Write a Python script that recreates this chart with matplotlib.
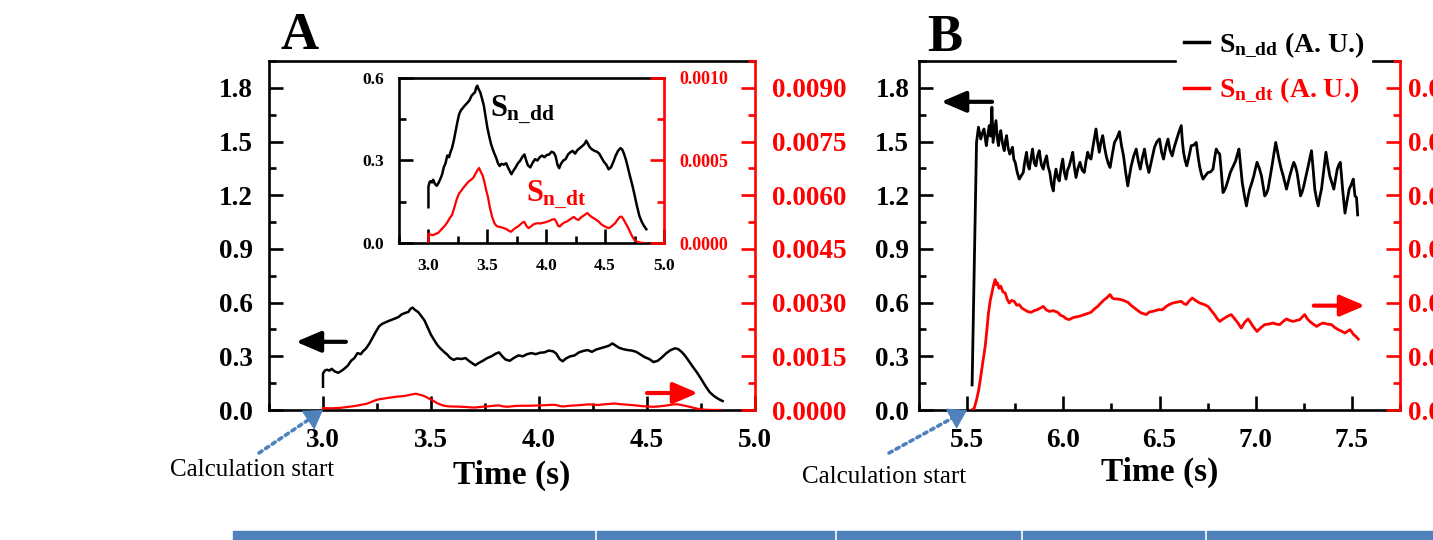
import numpy as np
import matplotlib
matplotlib.use("Agg")
import matplotlib.pyplot as plt
from matplotlib.lines import Line2D
from matplotlib.patches import Rectangle
from matplotlib.ticker import MultipleLocator, FormatStrFormatter

# Panel A: neutron source strength, discharge 1 (time in s)
a_t_dd = [3.000, 3.000, 3.010, 3.020, 3.030, 3.040, 3.055, 3.070, 3.085, 3.100,
          3.115, 3.130, 3.145, 3.160, 3.175, 3.185, 3.200, 3.215, 3.230, 3.245,
          3.260, 3.275, 3.290, 3.305, 3.320, 3.335, 3.350, 3.365, 3.380, 3.395,
          3.405, 3.415, 3.425, 3.440, 3.455, 3.470, 3.485, 3.500, 3.515, 3.530,
          3.545, 3.560, 3.575, 3.590, 3.605, 3.620, 3.640, 3.660, 3.675, 3.690,
          3.705, 3.720, 3.740, 3.760, 3.780, 3.800, 3.815, 3.830, 3.845, 3.865,
          3.885, 3.905, 3.925, 3.945, 3.965, 3.985, 4.005, 4.025, 4.045, 4.065,
          4.080, 4.095, 4.110, 4.125, 4.145, 4.165, 4.185, 4.205, 4.225, 4.245,
          4.265, 4.285, 4.305, 4.325, 4.340, 4.355, 4.370, 4.390, 4.410, 4.430,
          4.450, 4.470, 4.490, 4.510, 4.530, 4.550, 4.570, 4.590, 4.610, 4.630,
          4.645, 4.660, 4.675, 4.690, 4.710, 4.730, 4.750, 4.770, 4.790, 4.810,
          4.830, 4.850]
a_dd = [0.130, 0.205, 0.222, 0.225, 0.220, 0.230, 0.215, 0.208, 0.218, 0.232,
        0.248, 0.275, 0.290, 0.318, 0.312, 0.328, 0.345, 0.372, 0.405, 0.438,
        0.468, 0.482, 0.490, 0.498, 0.505, 0.512, 0.520, 0.535, 0.542, 0.548,
        0.565, 0.572, 0.560, 0.548, 0.525, 0.500, 0.460, 0.420, 0.390, 0.362,
        0.342, 0.325, 0.310, 0.290, 0.280, 0.288, 0.285, 0.290, 0.275, 0.262,
        0.250, 0.262, 0.275, 0.290, 0.300, 0.315, 0.322, 0.300, 0.282, 0.275,
        0.292, 0.305, 0.300, 0.312, 0.318, 0.312, 0.320, 0.322, 0.332, 0.328,
        0.315, 0.285, 0.272, 0.288, 0.300, 0.305, 0.322, 0.330, 0.335, 0.325,
        0.338, 0.345, 0.352, 0.360, 0.372, 0.360, 0.348, 0.340, 0.335, 0.332,
        0.325, 0.310, 0.295, 0.285, 0.268, 0.275, 0.295, 0.318, 0.335, 0.345,
        0.340, 0.325, 0.305, 0.280, 0.245, 0.212, 0.175, 0.135, 0.100, 0.078,
        0.062, 0.050]

a_t_dt = [3.000, 3.000, 3.020, 3.040, 3.060, 3.080, 3.100, 3.120, 3.140, 3.160,
          3.180, 3.200, 3.220, 3.240, 3.260, 3.280, 3.300, 3.320, 3.340, 3.360,
          3.380, 3.400, 3.415, 3.430, 3.445, 3.460, 3.475, 3.490, 3.505, 3.520,
          3.540, 3.560, 3.580, 3.600, 3.620, 3.640, 3.660, 3.680, 3.700, 3.720,
          3.740, 3.760, 3.780, 3.800, 3.815, 3.830, 3.850, 3.870, 3.890, 3.910,
          3.930, 3.950, 3.970, 3.990, 4.010, 4.030, 4.050, 4.070, 4.085, 4.100,
          4.115, 4.135, 4.155, 4.175, 4.195, 4.215, 4.235, 4.255, 4.275, 4.295,
          4.315, 4.335, 4.350, 4.365, 4.385, 4.405, 4.425, 4.445, 4.465, 4.485,
          4.505, 4.525, 4.545, 4.565, 4.585, 4.605, 4.625, 4.640, 4.655, 4.670,
          4.690, 4.710, 4.730, 4.750, 4.770, 4.800, 4.840]
a_dt = [0.0, 5.5e-5, 5.0e-5, 4.8e-5, 5.5e-5, 6.0e-5, 7.5e-5, 9.0e-5, 1.05e-4, 1.25e-4,
        1.50e-4, 1.70e-4, 2.15e-4, 2.65e-4, 3.00e-4, 3.18e-4, 3.38e-4, 3.55e-4, 3.72e-4, 3.82e-4,
        3.95e-4, 4.20e-4, 4.40e-4, 4.55e-4, 4.30e-4, 4.10e-4, 3.70e-4, 3.20e-4, 2.80e-4, 2.20e-4,
        1.60e-4, 1.20e-4, 1.02e-4, 9.8e-5, 9.5e-5, 9.0e-5, 8.5e-5, 7.5e-5, 6.8e-5, 8.0e-5,
        9.2e-5, 1.00e-4, 1.12e-4, 1.25e-4, 1.28e-4, 1.05e-4, 9.0e-5, 1.00e-4, 1.12e-4, 1.18e-4,
        1.20e-4, 1.18e-4, 1.22e-4, 1.25e-4, 1.30e-4, 1.35e-4, 1.42e-4, 1.45e-4, 1.30e-4, 1.05e-4,
        1.00e-4, 1.15e-4, 1.25e-4, 1.30e-4, 1.40e-4, 1.50e-4, 1.58e-4, 1.45e-4, 1.40e-4, 1.55e-4,
        1.65e-4, 1.75e-4, 1.82e-4, 1.70e-4, 1.58e-4, 1.50e-4, 1.40e-4, 1.30e-4, 1.15e-4, 1.05e-4,
        9.8e-5, 9.0e-5, 9.5e-5, 1.08e-4, 1.20e-4, 1.40e-4, 1.58e-4, 1.60e-4, 1.45e-4, 1.25e-4,
        1.00e-4, 7.0e-5, 4.0e-5, 1.8e-5, 8.0e-6, 2.0e-6, 0.0]

# Panel B: discharge 2
b_t_dd = [5.526, 5.549, 5.559, 5.571, 5.580, 5.588, 5.594, 5.600, 5.608, 5.615,
          5.622, 5.629, 5.635, 5.643, 5.650, 5.657, 5.663, 5.669, 5.675, 5.684,
          5.693, 5.699, 5.705, 5.714, 5.722, 5.729, 5.736, 5.743, 5.750, 5.760,
          5.771, 5.782, 5.792, 5.800, 5.809, 5.816, 5.823, 5.831, 5.840, 5.849,
          5.858, 5.866, 5.875, 5.886, 5.896, 5.904, 5.913, 5.921, 5.930, 5.939,
          5.948, 5.955, 5.962, 5.970, 5.979, 5.988, 5.997, 6.005, 6.014, 6.022,
          6.031, 6.040, 6.049, 6.057, 6.066, 6.076, 6.087, 6.098, 6.109, 6.118,
          6.127, 6.135, 6.144, 6.157, 6.170, 6.178, 6.187, 6.196, 6.205, 6.214,
          6.223, 6.233, 6.243, 6.255, 6.266, 6.279, 6.292, 6.302, 6.313, 6.324,
          6.335, 6.344, 6.353, 6.366, 6.379, 6.390, 6.400, 6.411, 6.422, 6.433,
          6.445, 6.460, 6.474, 6.487, 6.500, 6.511, 6.521, 6.533, 6.544, 6.555,
          6.566, 6.577, 6.587, 6.600, 6.613, 6.619, 6.625, 6.634, 6.642, 6.654,
          6.665, 6.678, 6.691, 6.700, 6.708, 6.717, 6.726, 6.739, 6.752, 6.765,
          6.778, 6.787, 6.795, 6.804, 6.813, 6.822, 6.830, 6.839, 6.847, 6.858,
          6.868, 6.882, 6.896, 6.905, 6.913, 6.922, 6.930, 6.941, 6.952, 6.960,
          6.969, 6.980, 6.990, 6.999, 7.007, 7.019, 7.030, 7.039, 7.047, 7.056,
          7.064, 7.073, 7.082, 7.093, 7.104, 7.112, 7.121, 7.132, 7.143, 7.152,
          7.160, 7.168, 7.177, 7.188, 7.198, 7.207, 7.215, 7.224, 7.233, 7.242,
          7.250, 7.262, 7.273, 7.282, 7.290, 7.299, 7.307, 7.316, 7.325, 7.333,
          7.342, 7.354, 7.365, 7.375, 7.385, 7.396, 7.406, 7.415, 7.424, 7.432,
          7.440, 7.452, 7.464, 7.475, 7.486, 7.497, 7.507, 7.516, 7.524, 7.530]
b_dd = [0.14, 1.495, 1.58, 1.514, 1.55, 1.57, 1.52, 1.477, 1.54, 1.589,
        1.53, 1.692, 1.495, 1.56, 1.617, 1.52, 1.477, 1.53, 1.561, 1.49,
        1.449, 1.50, 1.533, 1.46, 1.43, 1.45, 1.468, 1.40, 1.384, 1.33,
        1.29, 1.31, 1.327, 1.39, 1.44, 1.37, 1.346, 1.40, 1.458, 1.38,
        1.364, 1.42, 1.449, 1.37, 1.346, 1.39, 1.42, 1.36, 1.327, 1.26,
        1.224, 1.30, 1.346, 1.30, 1.28, 1.35, 1.402, 1.33, 1.29, 1.34,
        1.364, 1.40, 1.44, 1.36, 1.299, 1.35, 1.384, 1.34, 1.327, 1.39,
        1.44, 1.41, 1.402, 1.49, 1.57, 1.50, 1.44, 1.50, 1.533, 1.47,
        1.42, 1.38, 1.355, 1.43, 1.495, 1.52, 1.555, 1.48, 1.42, 1.33,
        1.252, 1.31, 1.364, 1.42, 1.458, 1.39, 1.346, 1.41, 1.458, 1.38,
        1.327, 1.40, 1.468, 1.50, 1.514, 1.44, 1.402, 1.47, 1.514, 1.45,
        1.42, 1.47, 1.505, 1.55, 1.589, 1.50, 1.44, 1.39, 1.364, 1.42,
        1.477, 1.48, 1.495, 1.42, 1.364, 1.32, 1.29, 1.31, 1.327, 1.33,
        1.346, 1.41, 1.458, 1.44, 1.43, 1.32, 1.215, 1.23, 1.252, 1.29,
        1.327, 1.36, 1.393, 1.43, 1.458, 1.36, 1.271, 1.20, 1.14, 1.19,
        1.234, 1.27, 1.308, 1.35, 1.384, 1.35, 1.308, 1.25, 1.196, 1.21,
        1.234, 1.29, 1.346, 1.42, 1.495, 1.45, 1.402, 1.35, 1.308, 1.27,
        1.234, 1.27, 1.308, 1.35, 1.384, 1.36, 1.327, 1.26, 1.196, 1.22,
        1.252, 1.31, 1.364, 1.41, 1.449, 1.34, 1.234, 1.18, 1.14, 1.19,
        1.234, 1.34, 1.44, 1.37, 1.308, 1.27, 1.234, 1.29, 1.346, 1.37,
        1.384, 1.23, 1.10, 1.17, 1.234, 1.26, 1.29, 1.196, 1.187, 1.09]

b_t_dt = [5.524, 5.537, 5.549, 5.560, 5.571, 5.582, 5.594, 5.603, 5.611, 5.620,
          5.629, 5.638, 5.646, 5.652, 5.658, 5.666, 5.675, 5.686, 5.698, 5.708,
          5.719, 5.732, 5.745, 5.758, 5.771, 5.784, 5.797, 5.815, 5.832, 5.849,
          5.866, 5.881, 5.896, 5.911, 5.927, 5.948, 5.970, 5.985, 6.000, 6.015,
          6.031, 6.048, 6.066, 6.088, 6.109, 6.127, 6.144, 6.162, 6.179, 6.197,
          6.214, 6.229, 6.243, 6.255, 6.266, 6.283, 6.300, 6.318, 6.335, 6.352,
          6.370, 6.388, 6.405, 6.418, 6.431, 6.448, 6.465, 6.481, 6.497, 6.515,
          6.535, 6.552, 6.570, 6.592, 6.613, 6.626, 6.639, 6.655, 6.670, 6.690,
          6.708, 6.730, 6.752, 6.770, 6.786, 6.800, 6.813, 6.826, 6.839, 6.856,
          6.873, 6.890, 6.908, 6.917, 6.925, 6.943, 6.960, 6.973, 6.986, 6.997,
          7.007, 7.027, 7.047, 7.068, 7.090, 7.107, 7.125, 7.143, 7.160, 7.177,
          7.194, 7.212, 7.229, 7.242, 7.255, 7.268, 7.281, 7.299, 7.316, 7.333,
          7.350, 7.372, 7.394, 7.412, 7.429, 7.447, 7.464, 7.477, 7.490, 7.500,
          7.510, 7.522, 7.533]
# S_n_dt in units of 1e-3
b_dt_milli = [0.0, 0.05, 0.28, 0.55, 0.935, 1.35, 1.775, 2.25, 2.71, 3.05,
              3.27, 3.5, 3.645, 3.5, 3.555, 3.4, 3.46, 3.3, 3.27, 3.1,
              2.99, 3.06, 3.035, 2.925, 2.945, 2.85, 2.805, 2.75, 2.73, 2.775,
              2.805, 2.85, 2.895, 2.8, 2.755, 2.775, 2.73, 2.65, 2.615, 2.55,
              2.525, 2.575, 2.6, 2.625, 2.665, 2.7, 2.73, 2.825, 2.895, 3.0,
              3.085, 3.15, 3.225, 3.125, 3.105, 3.1, 3.085, 3.05, 3.01, 2.925,
              2.85, 2.775, 2.71, 2.69, 2.665, 2.74, 2.755, 2.78, 2.805, 2.8,
              2.895, 2.95, 2.99, 3.015, 3.035, 2.975, 2.945, 3.05, 3.13, 3.05,
              2.99, 2.95, 2.895, 2.775, 2.665, 2.55, 2.475, 2.525, 2.57, 2.625,
              2.665, 2.55, 2.43, 2.35, 2.29, 2.45, 2.545, 2.45, 2.335, 2.26,
              2.195, 2.3, 2.385, 2.4, 2.43, 2.4, 2.385, 2.475, 2.545, 2.5,
              2.475, 2.5, 2.525, 2.6, 2.665, 2.55, 2.475, 2.4, 2.335, 2.39,
              2.43, 2.4, 2.385, 2.3, 2.245, 2.2, 2.15, 2.2, 2.245, 2.175,
              2.1, 2.05, 1.98]
b_dt = np.array(b_dt_milli) / 1000.0

plt.rcParams['font.family'] = ['Liberation Serif', 'DejaVu Serif']
plt.rcParams['font.weight'] = 'bold'
plt.rcParams['axes.labelweight'] = 'bold'
plt.rcParams['mathtext.fontset'] = 'custom'
plt.rcParams['mathtext.rm'] = 'Liberation Serif:bold'
plt.rcParams['mathtext.it'] = 'Liberation Serif:bold'
plt.rcParams['mathtext.bf'] = 'Liberation Serif:bold'

W, H = 1433, 540
RED = '#ff0000'
BLUE = '#4f81bd'
fig = plt.figure(figsize=(W / 100, H / 100), dpi=100)


def box(x0, y0, x1, y1):
    # pixel box measured from the top-left corner -> figure fraction rect
    return [x0 / W, 1 - y1 / H, (x1 - x0) / W, (y1 - y0) / H]


def left_axis(ax, xlim, ylim, xstep, ystep, size, xpad, ypad, ticklen=10):
    ax.set_xlim(*xlim)
    ax.set_ylim(*ylim)
    ax.xaxis.set_major_locator(MultipleLocator(xstep))
    ax.xaxis.set_minor_locator(MultipleLocator(xstep / 2))
    ax.yaxis.set_major_locator(MultipleLocator(ystep))
    ax.yaxis.set_minor_locator(MultipleLocator(ystep / 2))
    ax.xaxis.set_major_formatter(FormatStrFormatter('%.1f'))
    ax.yaxis.set_major_formatter(FormatStrFormatter('%.1f'))
    ax.tick_params(which='both', direction='in', width=1.9, labelsize=size)
    ax.tick_params(which='major', length=ticklen)
    ax.tick_params(which='minor', length=ticklen / 2)
    ax.tick_params(axis='x', pad=xpad)
    ax.tick_params(axis='y', pad=ypad)
    for s in ax.spines.values():
        s.set_linewidth(1.9)
    ax.spines['right'].set_visible(False)


def right_axis(ax, ylim, ystep, size, pad, ticklen=10):
    ax.set_ylim(*ylim)
    ax.yaxis.set_major_locator(MultipleLocator(ystep))
    ax.yaxis.set_minor_locator(MultipleLocator(ystep / 2))
    ax.yaxis.set_major_formatter(FormatStrFormatter('%.4f'))
    ax.tick_params(axis='y', which='both', direction='in', width=1.9,
                   colors=RED, labelsize=size, pad=pad)
    ax.tick_params(axis='y', which='major', length=ticklen)
    ax.tick_params(axis='y', which='minor', length=ticklen / 2)
    for name in ['left', 'top', 'bottom']:
        ax.spines[name].set_visible(False)
    ax.spines['right'].set_color(RED)
    ax.spines['right'].set_linewidth(1.9)


def arrow(ax, tail, head, color):
    ax.annotate('', xy=head, xytext=tail,
                arrowprops=dict(arrowstyle='-|>,head_length=0.75,head_width=0.32',
                                color=color, lw=3, mutation_scale=20,
                                shrinkA=0, shrinkB=0))


def start_marker(ax, tip, tail_px, head_dir, text_px):
    # dotted leader from the label up to the first sample, solid head on top
    ax.annotate('', xy=tip, xycoords='data',
                xytext=(tail_px[0] / W, 1 - tail_px[1] / H), textcoords='figure fraction',
                arrowprops=dict(arrowstyle='-', color=BLUE, lw=2.6, linestyle=(0, (1, 1.2)),
                                shrinkA=0, shrinkB=6),
                annotation_clip=False)
    ax.annotate('', xy=tip, xycoords='data',
                xytext=(head_dir[0] * 12, head_dir[1] * 12), textcoords='offset points',
                arrowprops=dict(arrowstyle='-|>,head_length=0.6,head_width=0.38',
                                color=BLUE, lw=0.8, mutation_scale=20,
                                shrinkA=0, shrinkB=0),
                annotation_clip=False)
    fig.text(text_px[0] / W, 1 - text_px[1] / H, 'Calculation start',
             fontsize=18, fontweight='normal', ha='left', va='center')


# ---------------- panel A ----------------
ax_a = fig.add_axes(box(269, 61, 755, 410))
ax_a.plot(a_t_dd, a_dd, color='black', lw=1.8)
left_axis(ax_a, (2.75, 5.0), (0, 1.95), 0.5, 0.3, 19.5, 13, 11.5)
ax_a.set_xlabel('Time (s)', fontsize=24, fontweight='bold', labelpad=5)

ax_a2 = ax_a.twinx()
ax_a2.plot(a_t_dt, a_dt, color=RED, lw=1.6)
right_axis(ax_a2, (0, 0.00975), 0.0015, 19.5, 12)

arrow(ax_a, (3.106, 0.381), (2.875, 0.381), 'black')
arrow(ax_a, (4.50, 0.095), (4.736, 0.095), RED)
start_marker(ax_a, (3.0, 0.0), (259, 453), (-0.83, -0.56), (170, 470))

# inset: zoom on the same discharge
ax_in = fig.add_axes(box(399, 78, 664, 243))
ax_in.plot(a_t_dd, a_dd, color='black', lw=1.8)
left_axis(ax_in, (2.75, 5.0), (0, 0.6), 0.5, 0.3, 12.5, 11, 11)
ax_in2 = ax_in.twinx()
ax_in2.plot(a_t_dt, a_dt, color=RED, lw=1.6)
right_axis(ax_in2, (0, 0.001), 0.0005, 13, 11)
ax_in.text(3.52, 0.545, r'$S_{n\_dd}$', fontsize=22, va='top', ha='left')
ax_in.text(3.83, 0.235, r'$S_{n\_dt}$', fontsize=22, va='top', ha='left', color=RED)

# ---------------- panel B ----------------
ax_b = fig.add_axes(box(919, 61, 1400, 410))
ax_b.plot(b_t_dd, b_dd, color='black', lw=2.0)
left_axis(ax_b, (5.25, 7.75), (0, 1.95), 0.5, 0.3, 19.5, 13, 7)
ax_b.set_xlabel('Time (s)', fontsize=24, fontweight='bold', labelpad=3)

ax_b2 = ax_b.twinx()
ax_b2.plot(b_t_dt, b_dt, color=RED, lw=2.0)
right_axis(ax_b2, (0, 0.00975), 0.0015, 19.5, 6)

arrow(ax_b, (5.63, 1.722), (5.365, 1.722), 'black')
arrow(ax_b, (7.302, 0.583), (7.568, 0.583), RED)
start_marker(ax_b, (5.5, 0.0), (889, 453), (-0.88, -0.48), (802, 477))

handles = [Line2D([], [], color='black', lw=2.5), Line2D([], [], color=RED, lw=2.5)]
labels = [r'$S_{n\_dd}$ (A. U.)', r'$S_{n\_dt}$ (A. U.)']
fig.legend(handles, labels, loc='center', bbox_to_anchor=(1274 / W, 1 - 68 / H),
           fontsize=20, labelcolor=['black', RED], frameon=True, fancybox=False,
           facecolor='white', edgecolor='white', framealpha=1,
           handlelength=0.9, handletextpad=0.35, labelspacing=0.6,
           borderpad=0.25, borderaxespad=0)

# panel letters
fig.text(300 / W, 1 - 36 / H, 'A', fontsize=38, ha='center', va='center')
fig.text(945 / W, 1 - 38 / H, 'B', fontsize=38, ha='center', va='center')

# blue header strip along the bottom edge
for x0, x1 in [(233, 594), (597, 834), (837, 1020), (1023, 1204), (1207, 1433)]:
    fig.patches.append(Rectangle((x0 / W, 0), (x1 - x0) / W, 9 / H,
                                 transform=fig.transFigure, color=BLUE))

fig.savefig('out.png', dpi=100)
